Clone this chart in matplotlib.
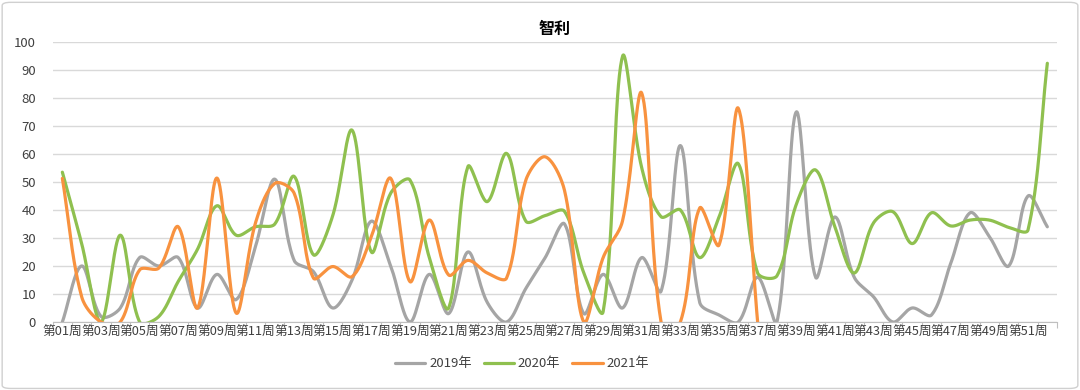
import numpy as np
import matplotlib
matplotlib.use("Agg")
import matplotlib.pyplot as plt
from matplotlib.patches import FancyBboxPatch

plt.rcParams["font.family"] = ["Noto Sans CJK SC", "DejaVu Sans"]

title = "智利"
weeks = [f"第{i:02d}周" for i in range(1, 53)]

y2019 = [0, 20, 2, 5, 23, 20, 23, 5, 17, 8, 27, 51, 22, 18, 5, 15, 36, 20, 0, 17,
         3, 25, 7, 0, 12, 23, 35, 3, 17, 5, 23, 11, 63, 7, 2.5, 0, 16, 0, 75, 16,
         37.5, 16, 9, 0, 5, 2.5, 21, 39, 30.5, 20, 45, 34]
y2020 = [53.5, 28, 0, 31, 0, 2, 14.5, 26, 41.5, 31, 34, 35, 52, 24, 38, 68.5, 25, 46, 50.7, 23,
         5, 55.5, 43, 60.2, 36, 38, 39.5, 17.5, 3.7, 94.8, 55, 37.6, 40, 23, 37.5, 56.5, 17.5, 16.5, 42, 54.3,
         34, 17.5, 35.4, 39.4, 28, 39, 34.3, 36.4, 36.4, 33.8, 32.9, 92.4]
y2021 = [51.3, 9, 0, 0, 18.6, 19.3, 34, 5, 51.4, 3.2, 35.4, 49.5, 46, 15.7, 19.8, 16.2, 30.5, 51.3, 14.4, 36.4,
         16.8, 22, 17.5, 15.7, 50.7, 59, 47, 0, 23, 36, 81.7, 0, 0, 40.7, 27.5, 76.3, 0]

series = [("2019年", y2019, "#a5a5a5"), ("2020年", y2020, "#8fc04f"), ("2021年", y2021, "#f8923f")]

AX_RECT = [0.0488, 0.1744, 0.9299, 0.7179]
FIG_W, FIG_H = 1080, 390


def smooth(ys, n=40):
    # Excel-like smoothed line: bezier, handles split by neighbouring segment lengths (screen space)
    sx = AX_RECT[2] * FIG_W / 52.0
    sy = AX_RECT[3] * FIG_H / 100.0
    pts = np.column_stack([np.arange(1, len(ys) + 1) * sx, np.asarray(ys, float) * sy])
    m = len(pts)
    d = np.hypot(*np.diff(pts, axis=0).T)
    cin, cout = pts.copy(), pts.copy()
    for i in range(m):
        prev = pts[max(i - 1, 0)]
        nxt = pts[min(i + 1, m - 1)]
        tan = nxt - prev
        dp = d[i - 1] if i > 0 else 0.0
        dn = d[i] if i < m - 1 else 0.0
        tot = dp + dn
        if tot == 0:
            continue
        cin[i] = pts[i] - tan * dp / tot / 3
        cout[i] = pts[i] + tan * dn / tot / 3
    t = np.linspace(0, 1, n)[:, None]
    segs = []
    for i in range(m - 1):
        p0, p1, p2, p3 = pts[i], cout[i], cin[i + 1], pts[i + 1]
        segs.append((1 - t) ** 3 * p0 + 3 * (1 - t) ** 2 * t * p1 + 3 * (1 - t) * t ** 2 * p2 + t ** 3 * p3)
    c = np.vstack(segs)
    return c[:, 0] / sx, c[:, 1] / sy


fig = plt.figure(figsize=(10.8, 3.9), dpi=100)
fig.patches.append(FancyBboxPatch((0.002, 0.004), 0.996, 0.99, boxstyle="round,pad=0,rounding_size=0.008",
                                  transform=fig.transFigure, facecolor="none", edgecolor="#d0d0d0", lw=1,
                                  zorder=-1))
ax = fig.add_axes(AX_RECT)

for label, vals, color in series:
    cx, cy = smooth(vals)
    ax.plot(cx, cy, color=color, lw=2.3, label=label, solid_capstyle="round")

ax.set_xlim(0.5, 52.5)
ax.set_ylim(0, 100)
ax.set_yticks(np.arange(0, 101, 10))
ax.grid(axis="y", color="#d9d9d9", lw=1)
ax.set_axisbelow(True)
for s in ["top", "right", "left"]:
    ax.spines[s].set_visible(False)
ax.spines["bottom"].set_color("#bfbfbf")

ax.set_xticks(np.arange(0.5, 53, 1))
ax.set_xticklabels([])
ax.tick_params(axis="x", which="major", length=4, color="#bfbfbf")
ax.set_xticks(np.arange(1, 53, 2), minor=True)
ax.set_xticklabels(weeks[::2], minor=True, fontsize=9.2, color="#404040")
ax.tick_params(axis="x", which="minor", length=0, pad=3)
ax.tick_params(axis="y", length=0, pad=12, labelsize=9.5, labelcolor="#404040")

ax.set_title(title, fontsize=11.5, fontweight="bold", pad=6)
fig.legend(loc="center", bbox_to_anchor=(522 / FIG_W, 1 - 364 / FIG_H), ncol=3, frameon=False, fontsize=9.5,
           handlelength=2.3, handletextpad=0.3, columnspacing=0.9, labelcolor="#404040")

fig.savefig("out.png", dpi=100)
